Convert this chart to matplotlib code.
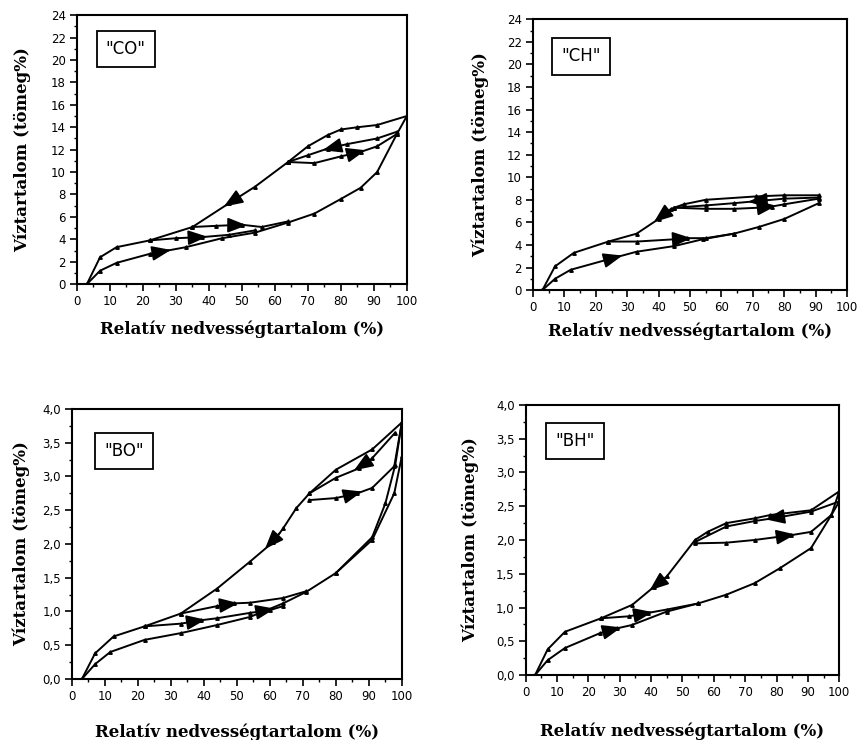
import numpy as np
import matplotlib
matplotlib.use('Agg')
import matplotlib.pyplot as plt
from matplotlib.ticker import MultipleLocator, FuncFormatter

# "CO" - sorption / desorption curves (RH %, water content mass%)
co_sorp_x = [3, 7, 12, 22, 33, 44, 54, 64, 72, 80, 86, 91, 97, 100]
co_sorp_y = [0, 1.2, 1.9, 2.7, 3.3, 4.1, 4.6, 5.5, 6.3, 7.6, 8.6, 10.0, 13.4, 15.0]
co_desorp_x = [100, 91, 85, 80, 76, 70, 64, 54, 46, 35, 22, 12, 7, 3]
co_desorp_y = [15.0, 14.2, 14.0, 13.8, 13.3, 12.3, 10.9, 8.7, 7.2, 5.1, 3.9, 3.3, 2.4, 0]
co_scan1_x = [64, 72, 80, 86, 91, 97]
co_scan1_y = [10.9, 10.8, 11.4, 11.8, 12.3, 13.4]
co_scan2_x = [97, 91, 82, 76, 70, 64]
co_scan2_y = [13.6, 13.0, 12.5, 12.1, 11.5, 10.9]
co_scan3_x = [35, 42, 50, 56, 64]
co_scan3_y = [5.1, 5.2, 5.3, 5.1, 5.6]
co_scan4_x = [22, 30, 38, 46, 54]
co_scan4_y = [3.9, 4.1, 4.2, 4.4, 4.8]

# "CH"
ch_sorp_x = [3, 7, 12, 25, 33, 45, 54, 64, 72, 80, 91]
ch_sorp_y = [0, 1.0, 1.8, 2.8, 3.4, 3.9, 4.5, 5.0, 5.6, 6.3, 7.7]
ch_desorp_x = [91, 80, 71, 55, 48, 44, 42, 40, 33, 24, 13, 7, 3]
ch_desorp_y = [8.4, 8.4, 8.3, 8.0, 7.6, 7.2, 6.8, 6.3, 5.0, 4.3, 3.3, 2.1, 0]
ch_scan1_x = [24, 33, 45, 49, 55, 64]
ch_scan1_y = [4.3, 4.3, 4.5, 4.6, 4.6, 5.0]
ch_scan2_x = [45, 55, 64, 72, 76, 80, 91]
ch_scan2_y = [7.3, 7.2, 7.2, 7.3, 7.4, 7.6, 8.1]
ch_scan3_x = [91, 80, 72, 64, 55, 45]
ch_scan3_y = [8.2, 8.1, 7.9, 7.7, 7.5, 7.3]

# "BO"
bo_sorp_x = [3, 7, 11.6, 22, 33, 44, 54, 64, 71, 80, 91, 97.7, 100]
bo_sorp_y = [0, 0.22, 0.40, 0.58, 0.68, 0.80, 0.92, 1.12, 1.29, 1.57, 2.06, 2.75, 3.3]
bo_desorp_x = [100, 91, 80, 72, 68, 64, 61, 54, 44, 33, 22, 12.6, 7, 3]
bo_desorp_y = [3.8, 3.4, 3.1, 2.75, 2.53, 2.23, 2.03, 1.74, 1.34, 0.97, 0.78, 0.63, 0.38, 0]
bo_scan1_x = [33, 44, 49, 54, 64, 71]
bo_scan1_y = [0.97, 1.08, 1.12, 1.13, 1.2, 1.3]
bo_scan2_x = [22, 33, 39, 44, 54, 60, 64]
bo_scan2_y = [0.78, 0.82, 0.87, 0.9, 0.98, 1.02, 1.08]
bo_scan3_x = [72, 80, 86.5, 91, 97.7, 100]
bo_scan3_y = [2.65, 2.68, 2.75, 2.83, 3.15, 3.8]
bo_scan4_x = [98, 91, 87, 80, 72]
bo_scan4_y = [3.65, 3.27, 3.12, 2.98, 2.75]
bo_scan5_x = [80, 91, 95, 98, 100]
bo_scan5_y = [1.57, 2.1, 2.6, 3.17, 3.8]

# "BH"
bh_sorp_x = [3, 7, 12.5, 23.7, 29, 33.8, 45, 55, 64, 73, 81, 91, 97.5, 100]
bh_sorp_y = [0, 0.22, 0.40, 0.62, 0.69, 0.74, 0.94, 1.06, 1.19, 1.36, 1.58, 1.88, 2.37, 2.72]
bh_desorp_x = [100, 91, 78, 73, 64, 58, 54, 45, 41, 34, 24, 12.5, 7, 3]
bh_desorp_y = [2.72, 2.44, 2.37, 2.32, 2.25, 2.12, 2.0, 1.46, 1.31, 1.04, 0.84, 0.64, 0.38, 0]
bh_scan1_x = [54, 64, 73, 84.5, 91, 97.5, 100]
bh_scan1_y = [1.95, 1.96, 2.0, 2.07, 2.12, 2.37, 2.57]
bh_scan2_x = [100, 91, 80, 73, 64, 54]
bh_scan2_y = [2.57, 2.42, 2.33, 2.28, 2.2, 1.97]
bh_scan3_x = [24, 33, 39, 45, 55]
bh_scan3_y = [0.84, 0.87, 0.92, 0.97, 1.06]

xlabel = 'Relatív nedvességtartalom (%)'
ylabel = 'Víztartalom (tömeg%)'


def draw_arrow(ax, xs, ys, x0):
    # arrowhead on the curve at x0, pointing the way the curve is drawn
    xs = np.asarray(xs, float)
    ys = np.asarray(ys, float)
    step = 1.0 if xs[-1] > xs[0] else -1.0
    order = np.argsort(xs)
    yi = lambda v: np.interp(v, xs[order], ys[order])
    tail = (x0 - 3 * step, yi(x0 - 3 * step))
    head = (x0 + 1.5 * step, yi(x0 + 1.5 * step))
    ax.annotate('', xy=head, xytext=tail,
                arrowprops=dict(arrowstyle='-|>,head_length=0.9,head_width=0.35',
                                color='black', lw=1.3, mutation_scale=13,
                                shrinkA=0, shrinkB=0))


def setup(ax, ymax, ymajor, yminor, name, box_xy, comma=False, xpad=9, ypad=10):
    ax.set_xlim(0, 100)
    ax.set_ylim(0, ymax)
    ax.xaxis.set_major_locator(MultipleLocator(10))
    ax.xaxis.set_minor_locator(MultipleLocator(5))
    ax.yaxis.set_major_locator(MultipleLocator(ymajor))
    ax.yaxis.set_minor_locator(MultipleLocator(yminor))
    if comma:
        ax.yaxis.set_major_formatter(FuncFormatter(lambda v, p: f'{v:.1f}'.replace('.', ',')))
    ax.tick_params(which='major', direction='out', length=5, width=1.2, labelsize=8.5, pad=3)
    ax.tick_params(which='minor', direction='out', length=2.5, width=1)
    for s in ax.spines.values():
        s.set_linewidth(1.5)
    ax.set_xlabel(xlabel, family='DejaVu Serif', fontweight='bold', fontsize=12, labelpad=xpad)
    ax.set_ylabel(ylabel, family='DejaVu Serif', fontweight='bold', fontsize=12, labelpad=ypad)
    ax.text(box_xy[0], box_xy[1], '"' + name + '"', transform=ax.transAxes,
            ha='center', va='center', fontsize=12,
            bbox=dict(boxstyle='square,pad=0.55', fc='white', ec='black', lw=1.3))


def curves(ax, pairs):
    for xs, ys in pairs:
        ax.plot(xs, ys, color='black', lw=1.4, marker='^', markersize=2.5)


fig = plt.figure(figsize=(8.59, 7.40), dpi=100)
ax1 = fig.add_axes([0.0896, 0.616, 0.384, 0.3635])
ax2 = fig.add_axes([0.6205, 0.608, 0.3655, 0.366])
ax3 = fig.add_axes([0.0838, 0.0824, 0.384, 0.365])
ax4 = fig.add_axes([0.612, 0.0878, 0.365, 0.365])

# CO
curves(ax1, [(co_sorp_x, co_sorp_y), (co_desorp_x, co_desorp_y), (co_scan1_x, co_scan1_y),
             (co_scan2_x, co_scan2_y), (co_scan3_x, co_scan3_y), (co_scan4_x, co_scan4_y)])
draw_arrow(ax1, co_sorp_x, co_sorp_y, 27)
draw_arrow(ax1, co_desorp_x, co_desorp_y, 46)
draw_arrow(ax1, co_scan1_x, co_scan1_y, 86)
draw_arrow(ax1, co_scan2_x, co_scan2_y, 76)
draw_arrow(ax1, co_scan3_x, co_scan3_y, 50)
draw_arrow(ax1, co_scan4_x, co_scan4_y, 38)
setup(ax1, 24, 2, 1, 'CO', (0.148, 0.874), xpad=9, ypad=14)

# CH
curves(ax2, [(ch_sorp_x, ch_sorp_y), (ch_desorp_x, ch_desorp_y), (ch_scan1_x, ch_scan1_y),
             (ch_scan2_x, ch_scan2_y), (ch_scan3_x, ch_scan3_y)])
draw_arrow(ax2, ch_sorp_x, ch_sorp_y, 27)
draw_arrow(ax2, ch_desorp_x, ch_desorp_y, 40)
draw_arrow(ax2, ch_scan1_x, ch_scan1_y, 49)
draw_arrow(ax2, ch_scan2_x, ch_scan2_y, 76)
draw_arrow(ax2, ch_scan3_x, ch_scan3_y, 70)
setup(ax2, 24, 2, 1, 'CH', (0.153, 0.863), xpad=6, ypad=13)

# BO
curves(ax3, [(bo_sorp_x, bo_sorp_y), (bo_desorp_x, bo_desorp_y), (bo_scan1_x, bo_scan1_y),
             (bo_scan2_x, bo_scan2_y), (bo_scan3_x, bo_scan3_y), (bo_scan4_x, bo_scan4_y),
             (bo_scan5_x, bo_scan5_y)])
draw_arrow(ax3, bo_desorp_x, bo_desorp_y, 60)
draw_arrow(ax3, bo_scan1_x, bo_scan1_y, 49)
draw_arrow(ax3, bo_scan2_x, bo_scan2_y, 39)
draw_arrow(ax3, bo_scan2_x, bo_scan2_y, 60)
draw_arrow(ax3, bo_scan3_x, bo_scan3_y, 86.5)
draw_arrow(ax3, bo_scan4_x, bo_scan4_y, 87)
setup(ax3, 4.0, 0.5, 0.25, 'BO', (0.158, 0.844), comma=True, xpad=15, ypad=9)

# BH
curves(ax4, [(bh_sorp_x, bh_sorp_y), (bh_desorp_x, bh_desorp_y), (bh_scan1_x, bh_scan1_y),
             (bh_scan2_x, bh_scan2_y), (bh_scan3_x, bh_scan3_y)])
draw_arrow(ax4, bh_sorp_x, bh_sorp_y, 29)
draw_arrow(ax4, bh_desorp_x, bh_desorp_y, 41)
draw_arrow(ax4, bh_scan1_x, bh_scan1_y, 84.5)
draw_arrow(ax4, bh_scan2_x, bh_scan2_y, 78)
draw_arrow(ax4, bh_scan3_x, bh_scan3_y, 39)
setup(ax4, 4.0, 0.5, 0.25, 'BH', (0.157, 0.867), comma=True, xpad=17, ypad=12)

fig.savefig('out.png', dpi=100)
